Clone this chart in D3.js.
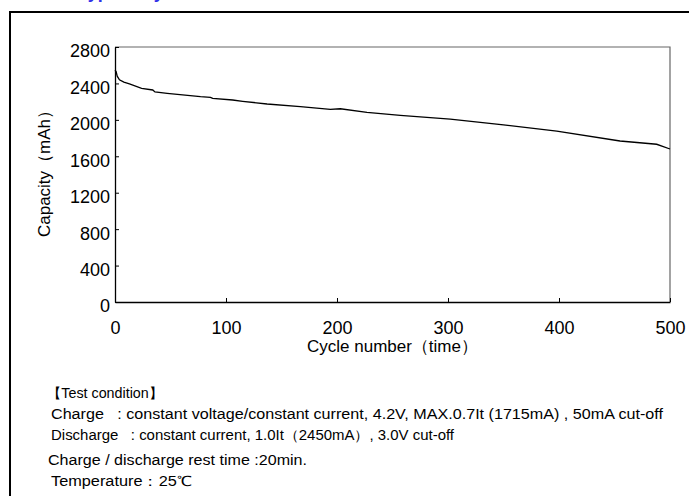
<!DOCTYPE html>
<html>
<head>
<meta charset="utf-8">
<script src="https://cdn.jsdelivr.net/npm/d3@7"></script>
<style>
  body { margin: 0; background: #fff; }
  svg { display: block; font-family: "Liberation Sans", Arial, sans-serif; }
</style>
</head>
<body>
<div id="chart"></div>
<script>
// cycle life curve
var cycles = [0, 1, 2, 4, 8, 13, 24, 34, 36, 47, 77, 86, 88, 106, 115, 137, 167, 194, 203, 227, 257, 302, 350, 398, 455, 488, 500];
var capacity = [2545, 2530, 2480, 2440, 2415, 2394, 2346, 2328, 2306, 2291, 2254, 2247, 2235, 2218, 2204, 2174, 2145, 2116, 2122, 2083, 2050, 2009, 1945, 1877, 1768, 1732, 1680];

var xTicks = [0, 100, 200, 300, 400, 500];
var yTicks = [0, 400, 800, 1200, 1600, 2000, 2400, 2800];

var conditionLines = [
  "【Test condition】",
  "Charge\u00a0\u00a0\u00a0: constant voltage/constant current, 4.2V, MAX.0.7It (1715mA) , 50mA cut-off",
  "Discharge\u00a0\u00a0\u00a0: constant current, 1.0It（2450mA）, 3.0V cut-off",
  "Charge / discharge rest time :20min.",
  "Temperature：25℃"
];

var W = 689, H = 496;
var margin = { top: 47, right: 19, bottom: 194, left: 115 },
  width = W - margin.left - margin.right,
  height = H - margin.top - margin.bottom;

var root = d3.select("#chart").append("svg")
  .attr("width", W)
  .attr("height", H);

// blue heading, mostly above the top edge like in the source
root.append("text")
  .attr("x", 78)
  .attr("y", -2)
  .style("font-size", "18px")
  .style("font-weight", "bold")
  .style("fill", "#3030e8")
  .text("Typical cycle");

// outer frame
root.append("path")
  .attr("d", "M10," + H + "V12H" + W)
  .attr("fill", "none")
  .attr("stroke", "#000")
  .attr("stroke-width", 2);

var svg = root.append("g")
  .attr("transform", "translate(" + margin.left + "," + margin.top + ")");

var x = d3.scaleLinear().domain([0, 500]).range([0, width]);
var y = d3.scaleLinear().domain([0, 2800]).range([height, 0]);

// top / right border of plot
svg.append("path")
  .attr("d", "M0,0H" + width + "V" + height)
  .attr("fill", "none")
  .attr("stroke", "#666")
  .attr("stroke-width", 1.2);

var xAxis = svg.append("g")
  .attr("transform", "translate(0," + height + ")")
  .call(d3.axisBottom(x).tickValues(xTicks).tickFormat(d3.format("d"))
    .tickSizeInner(-4).tickSizeOuter(0).tickPadding(19));

var yAxis = svg.append("g")
  .call(d3.axisLeft(y).tickValues(yTicks).tickFormat(d3.format("d"))
    .tickSizeInner(-4).tickSizeOuter(0).tickPadding(5));

[xAxis, yAxis].forEach(function (g) {
  g.select(".domain").attr("stroke", "#000").attr("stroke-width", 1.3);
  g.selectAll(".tick line").attr("stroke", "#000");
  g.selectAll(".tick text")
    .style("font-size", "18px")
    .style("font-family", "'Liberation Sans', Arial, sans-serif")
    .attr("fill", "#000");
});
yAxis.selectAll(".tick text").attr("dy", "0.55em");

var line = d3.line()
  .x(function (d, i) { return x(cycles[i]); })
  .y(function (d) { return y(d); });

svg.append("path")
  .datum(capacity)
  .attr("d", line)
  .attr("fill", "none")
  .attr("stroke", "#000")
  .attr("stroke-width", 1.3);

svg.append("text")
  .attr("x", width / 2)
  .attr("y", height + 50)
  .style("text-anchor", "middle")
  .style("font-size", "17px")
  .text("Cycle number（time）");

svg.append("text")
  .attr("transform", "rotate(-90)")
  .attr("x", -height / 2 + 5)
  .attr("y", 50 - margin.left)
  .style("text-anchor", "middle")
  .style("font-size", "17px")
  .text("Capacity（mAh）");

// test conditions block
var lineX = [47, 51, 51, 48, 51];
var lineY = [398, 419, 440, 465, 486];
var lineW = [116, 612, 403, 259, 141];

root.selectAll(".cond")
  .data(conditionLines)
  .enter()
  .append("text")
  .attr("class", "cond")
  .attr("x", function (d, i) { return lineX[i]; })
  .attr("y", function (d, i) { return lineY[i]; })
  .attr("textLength", function (d, i) { return lineW[i]; })
  .attr("lengthAdjust", "spacingAndGlyphs")
  .style("font-size", "14px")
  .text(function (d) { return d; });
</script>
</body>
</html>
